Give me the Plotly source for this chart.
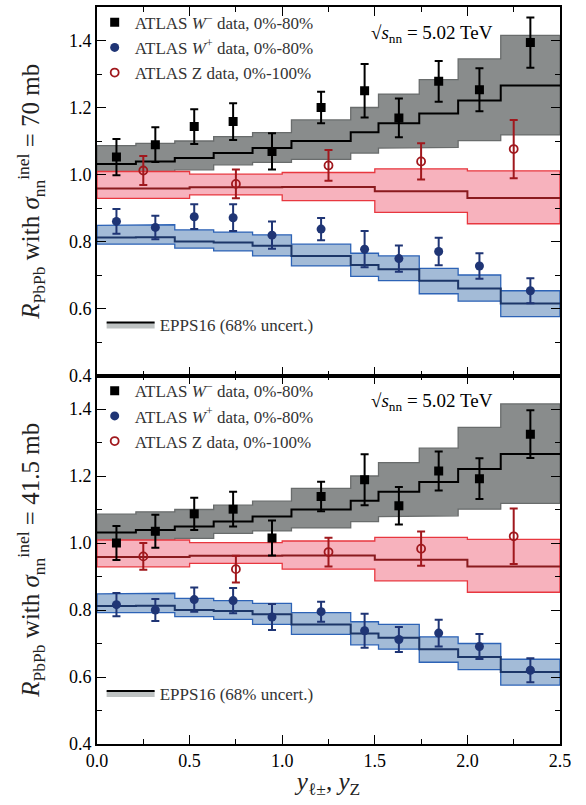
import plotly.graph_objects as go
from plotly.subplots import make_subplots

# ---------------- data ----------------
edges_W = [0.0, 0.21, 0.42, 0.63, 0.84, 1.05, 1.37, 1.52, 1.74, 1.95, 2.18, 2.5]
x_W = [0.105, 0.315, 0.525, 0.735, 0.945, 1.21, 1.445, 1.63, 1.845, 2.065, 2.34]
edges_Z = [0.0, 0.5, 1.0, 1.5, 2.0, 2.5]
x_Z = [0.25, 0.75, 1.25, 1.75, 2.25]

# top panel (sigma = 70 mb)
wm_top = [1.052, 1.089, 1.143, 1.158, 1.069, 1.200, 1.250, 1.169, 1.278, 1.253, 1.394]
wm_top_err = [0.054, 0.052, 0.052, 0.055, 0.054, 0.047, 0.080, 0.058, 0.061, 0.064, 0.075]
wp_top = [0.860, 0.842, 0.874, 0.871, 0.819, 0.837, 0.777, 0.749, 0.770, 0.727, 0.653]
wp_top_err = [0.037, 0.035, 0.037, 0.040, 0.041, 0.033, 0.054, 0.039, 0.041, 0.038, 0.037]
z_top = [1.012, 0.972, 1.027, 1.039, 1.076]
z_top_err = [0.043, 0.043, 0.046, 0.054, 0.087]

# bottom panel (sigma = 41.5 mb)
wm_bot = [1.000, 1.035, 1.087, 1.101, 1.015, 1.139, 1.189, 1.111, 1.215, 1.192, 1.325]
wm_bot_err = [0.051, 0.049, 0.048, 0.052, 0.052, 0.044, 0.076, 0.056, 0.058, 0.061, 0.071]
wp_bot = [0.816, 0.800, 0.831, 0.828, 0.779, 0.795, 0.738, 0.712, 0.731, 0.691, 0.620]
wp_bot_err = [0.035, 0.033, 0.036, 0.038, 0.039, 0.030, 0.051, 0.037, 0.040, 0.037, 0.036]
z_bot = [0.960, 0.922, 0.973, 0.983, 1.020]
z_bot_err = [0.040, 0.040, 0.043, 0.051, 0.083]

# EPPS16 bands (same in both panels)
wm_cen = [1.031, 1.039, 1.049, 1.064, 1.079, 1.100, 1.126, 1.153, 1.182, 1.221, 1.266]
wm_lo = [0.999, 1.007, 1.014, 1.029, 1.036, 1.045, 1.064, 1.079, 1.081, 1.101, 1.118]
wm_hi = [1.086, 1.093, 1.100, 1.113, 1.125, 1.163, 1.200, 1.240, 1.283, 1.345, 1.415]
wp_cen = [0.812, 0.813, 0.800, 0.797, 0.787, 0.757, 0.730, 0.717, 0.683, 0.660, 0.615]
wp_lo = [0.792, 0.792, 0.780, 0.772, 0.757, 0.727, 0.696, 0.683, 0.644, 0.622, 0.576]
wp_hi = [0.848, 0.850, 0.835, 0.828, 0.820, 0.792, 0.765, 0.757, 0.720, 0.700, 0.653]
z_cen = [0.958, 0.962, 0.963, 0.950, 0.930]
z_lo = [0.929, 0.939, 0.922, 0.887, 0.853]
z_hi = [1.009, 1.001, 1.006, 1.017, 1.011]

y_ticks = [0.4, 0.6, 0.8, 1.0, 1.2, 1.4]
x_ticks = [0.0, 0.5, 1.0, 1.5, 2.0, 2.5]

FONT = "Liberation Serif"
C_WM = "black"
C_WP = "#1f3575"
C_Z = "#a0181d"


def step_poly(edges, lo, hi):
    xs, ys = [], []
    for i in range(len(lo)):
        xs += [edges[i], edges[i + 1]]
        ys += [hi[i], hi[i]]
    for i in reversed(range(len(lo))):
        xs += [edges[i + 1], edges[i]]
        ys += [lo[i], lo[i]]
    xs.append(xs[0]); ys.append(ys[0])
    return xs, ys


fig = make_subplots(rows=2, cols=1, shared_xaxes=True, vertical_spacing=0)

bands = [
    (edges_W, wm_lo, wm_hi, wm_cen, "rgb(137,140,140)", "rgb(105,108,108)", "black"),
    (edges_Z, z_lo, z_hi, z_cen, "rgba(247,178,189,1)", "#e8373f", "#8a1a1e"),
    (edges_W, wp_lo, wp_hi, wp_cen, "rgb(163,187,215)", "#2d63b6", "#1c3668"),
]

panels = [
    (1, wm_top, wm_top_err, wp_top, wp_top_err, z_top, z_top_err, "legend", "legend3"),
    (2, wm_bot, wm_bot_err, wp_bot, wp_bot_err, z_bot, z_bot_err, "legend2", "legend4"),
]

for row, wm, wme, wp, wpe, z, ze, leg, legE in panels:
    for edges, lo, hi, cen, fc, lc, cc in bands:
        px, py = step_poly(edges, lo, hi)
        fig.add_trace(go.Scatter(x=px, y=py, mode="lines", fill="toself", fillcolor=fc,
                                 line=dict(color=lc, width=1.3), showlegend=False,
                                 hoverinfo="skip"), row=row, col=1)
        fig.add_trace(go.Scatter(x=edges, y=cen + [cen[-1]], mode="lines",
                                 line=dict(color=cc, width=2, shape="hv"),
                                 showlegend=False, hoverinfo="skip"), row=row, col=1)
    eb = dict(type="data", thickness=2, width=4)
    fig.add_trace(go.Scatter(x=x_W, y=wm, mode="markers",
                             name="ATLAS <i>W</i><sup>−</sup> data, 0%-80%",
                             marker=dict(symbol="square", size=9, color=C_WM),
                             error_y=dict(array=wme, color=C_WM, **eb),
                             legend=leg), row=row, col=1)
    fig.add_trace(go.Scatter(x=x_W, y=wp, mode="markers",
                             name="ATLAS <i>W</i><sup>+</sup> data, 0%-80%",
                             marker=dict(symbol="circle", size=9, color=C_WP),
                             error_y=dict(array=wpe, color=C_WP, **eb),
                             legend=leg), row=row, col=1)
    fig.add_trace(go.Scatter(x=x_Z, y=z, mode="markers",
                             name="ATLAS Z data, 0%-100%",
                             marker=dict(symbol="circle-open", size=8, color=C_Z,
                                         line=dict(width=1.8, color=C_Z)),
                             error_y=dict(array=ze, color=C_Z, **eb),
                             legend=leg), row=row, col=1)
    # EPPS16 legend entry
    fig.add_trace(go.Scatter(x=[None], y=[None], mode="lines", fill="toself",
                             fillcolor="rgb(190,194,194)",
                             line=dict(color="black", width=2),
                             name="EPPS16 (68% uncert.)", legend=legE), row=row, col=1)

axis_common = dict(showline=True, linecolor="black", linewidth=1.6, mirror="ticks",
                   ticks="inside", ticklen=9, tickwidth=1.4, tickcolor="black",
                   showgrid=False, zeroline=False,
                   tickfont=dict(family=FONT, size=18, color="black"))

for r in (1, 2):
    fig.update_xaxes(range=[0, 2.5], tickvals=x_ticks, tickformat=".1f",
                     minor=dict(ticks="inside", ticklen=5, tickwidth=1.2, dtick=0.25,
                                tickcolor="black"),
                     showticklabels=(r == 2), row=r, col=1, **axis_common)
    fig.update_yaxes(range=[0.4, 1.5], tickvals=y_ticks, tickformat=".1f",
                     minor=dict(ticks="inside", ticklen=5, tickwidth=1.2, dtick=0.1,
                                tick0=0.4, tickcolor="black"),
                     row=r, col=1, **axis_common)

title_font = dict(family=FONT, size=25, color="#222222")
fig.update_yaxes(title=dict(text="<i>R</i><sub>PbPb</sub> with <i>σ</i><sub>nn</sub><sup>inel</sup> = 70 mb",
                            font=title_font, standoff=22), row=1, col=1)
fig.update_yaxes(title=dict(text="<i>R</i><sub>PbPb</sub> with <i>σ</i><sub>nn</sub><sup>inel</sup> = 41.5 mb",
                            font=title_font, standoff=22), row=2, col=1)
fig.update_xaxes(title=dict(text="<i>y</i><sub>ℓ±</sub>, <i>y</i><sub>Z</sub>",
                            font=dict(family=FONT, size=25, color="#222222"), standoff=2),
                 row=2, col=1)

leg_font = dict(family=FONT, size=17, color="#333333")
legend_common = dict(bgcolor="rgba(0,0,0,0)", borderwidth=0, font=leg_font,
                     xanchor="left", yanchor="top", tracegroupgap=0)
fig.update_layout(
    width=586, height=805,
    margin=dict(l=97, r=26, t=5, b=61),
    plot_bgcolor="white", paper_bgcolor="white",
    legend=dict(x=-0.005, y=1.003, itemwidth=30, **legend_common),
    legend2=dict(x=-0.005, y=0.503, itemwidth=30, **legend_common),
    legend3=dict(x=0.01, y=0.593, itemwidth=48, **legend_common),
    legend4=dict(x=0.01, y=0.093, itemwidth=48, **legend_common),
)

for xr, yr in (("x domain", "y domain"), ("x2 domain", "y2 domain")):
    fig.add_annotation(x=0.86, y=0.965, xref=xr, yref=yr,
                       xanchor="right", yanchor="top", showarrow=False,
                       text="√<i>s</i><sub>nn</sub> = 5.02 TeV",
                       font=dict(family=FONT, size=19, color="black"))

fig.write_html("out.html")
